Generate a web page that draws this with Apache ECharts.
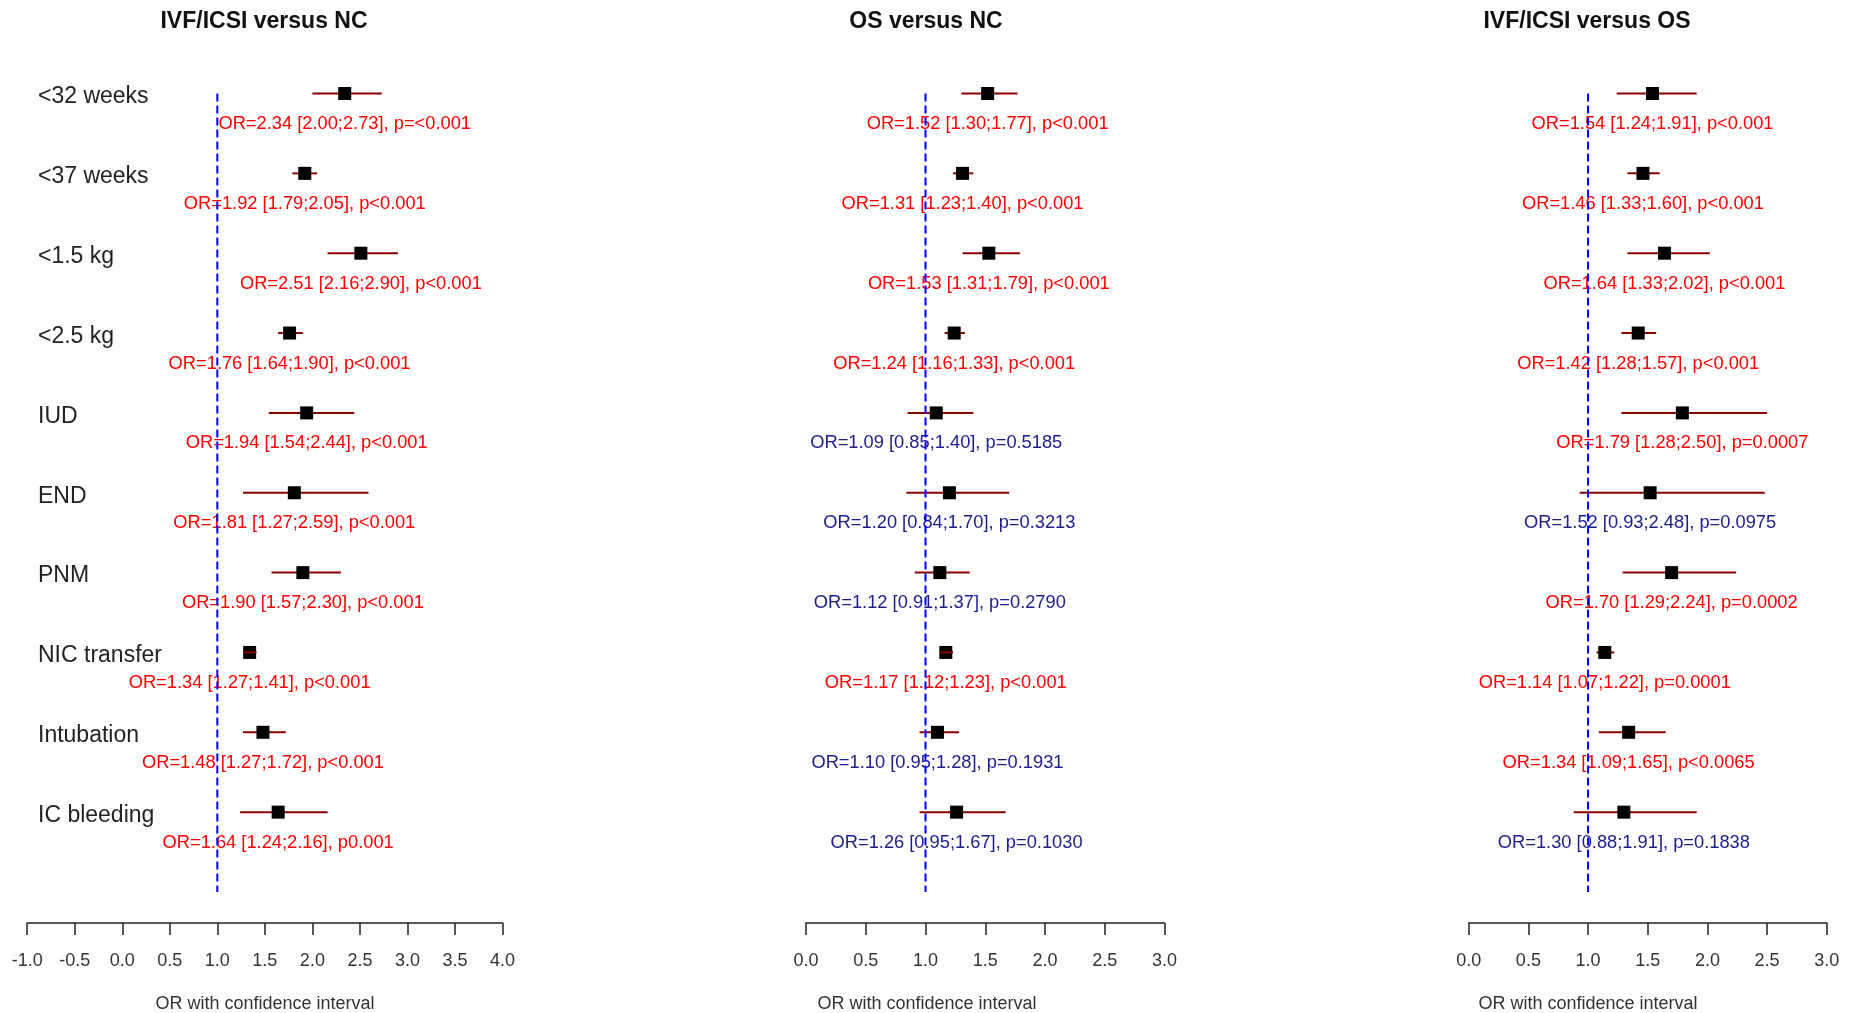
<!DOCTYPE html>
<html>
<head>
<meta charset="utf-8">
<script src="https://cdn.jsdelivr.net/npm/echarts@6/dist/echarts.min.js"></script>
<style>
html,body{margin:0;padding:0;background:#fff;}
#chart{width:1854px;height:1013px;}
</style>
</head>
<body>
<div id="chart"></div>
<script>
// ---------- data ----------
const categories = ['<32 weeks','<37 weeks','<1.5 kg','<2.5 kg','IUD','END','PNM','NIC transfer','Intubation','IC bleeding'];
const panelTitles = ['IVF/ICSI versus NC','OS versus NC','IVF/ICSI versus OS'];
const axisTitle = 'OR with confidence interval';

const or1 = [2.34,1.92,2.51,1.76,1.94,1.81,1.90,1.34,1.48,1.64];
const lo1 = [2.00,1.79,2.16,1.64,1.54,1.27,1.57,1.27,1.27,1.24];
const hi1 = [2.73,2.05,2.90,1.90,2.44,2.59,2.30,1.41,1.72,2.16];
const p1  = ['p=<0.001','p<0.001','p<0.001','p<0.001','p<0.001','p<0.001','p<0.001','p<0.001','p<0.001','p0.001'];

const or2 = [1.52,1.31,1.53,1.24,1.09,1.20,1.12,1.17,1.10,1.26];
const lo2 = [1.30,1.23,1.31,1.16,0.85,0.84,0.91,1.12,0.95,0.95];
const hi2 = [1.77,1.40,1.79,1.33,1.40,1.70,1.37,1.23,1.28,1.67];
const p2  = ['p<0.001','p<0.001','p<0.001','p<0.001','p=0.5185','p=0.3213','p=0.2790','p<0.001','p=0.1931','p=0.1030'];

const or3 = [1.54,1.46,1.64,1.42,1.79,1.52,1.70,1.14,1.34,1.30];
const lo3 = [1.24,1.33,1.33,1.28,1.28,0.93,1.29,1.07,1.09,0.88];
const hi3 = [1.91,1.60,2.02,1.57,2.50,2.48,2.24,1.22,1.65,1.91];
const p3  = ['p<0.001','p<0.001','p<0.001','p<0.001','p=0.0007','p=0.0975','p=0.0002','p=0.0001','p<0.0065','p=0.1838'];

const xMins = [-1, 0, 0];
const xMaxs = [4, 3, 3];
const xInterval = 0.5;
const refValue = 1;

// ---------- layout / style ----------
const FONT = '"Liberation Sans", Arial, sans-serif';
const panels = [
  {or: or1, lo: lo1, hi: hi1, p: p1},
  {or: or2, lo: lo2, hi: hi2, p: p2},
  {or: or3, lo: lo3, hi: hi3, p: p3}
];
const gridLeft = [27.2, 806, 1468.7];
const gridWidth = [475.3, 358.5, 358.1];
const titleX = [264, 926, 1587];
const axisTitleX = [265, 927, 1588];
const rowStep = 79.85;
const firstRowY = 93.5;
const yMin = -1;
const gridTop = firstRowY - rowStep;
const gridBottomY = 923;
const yMax = yMin + (gridBottomY - gridTop) / rowStep;
const SQ = 13;

const chart = echarts.init(document.getElementById('chart'), null, {renderer: 'canvas'});

function makeRender(pi) {
  const P = panels[pi];
  return function (params, api) {
    const i = params.dataIndex;
    const o = P.or[i], l = P.lo[i], h = P.hi[i];
    const pc = api.coord([o, i]);
    const pl = api.coord([l, i]);
    const ph = api.coord([h, i]);
    const sig = l > 1 || h < 1;
    const lineShape = {x1: pl[0], y1: pc[1], x2: ph[0], y2: pc[1]};
    const lineStyle = {stroke: '#8B0000', lineWidth: 2};
    const children = [];
    children.push({type: 'line', shape: lineShape, style: lineStyle, z2: 1});
    children.push({type: 'rect', shape: {x: pc[0] - SQ / 2, y: pc[1] - SQ / 2, width: SQ, height: SQ}, style: {fill: '#000'}, z2: 2});
    if (ph[0] - pl[0] <= SQ + 1) {
      children.push({type: 'line', shape: lineShape, style: lineStyle, z2: 3});
    }
    children.push({
      type: 'text', x: pc[0], y: pc[1] + 30.5, z2: 4,
      style: {
        text: 'OR=' + o.toFixed(2) + ' [' + l.toFixed(2) + ';' + h.toFixed(2) + '], ' + P.p[i],
        fill: sig ? '#FF0000' : '#1c1c8c',
        font: '18.3px ' + FONT, align: 'center', verticalAlign: 'middle'
      }
    });
    if (pi === 0) {
      children.push({
        type: 'text', x: 38, y: pc[1] + 3.5, z2: 4,
        style: {text: categories[i], fill: '#222', font: '23px ' + FONT, align: 'left', verticalAlign: 'middle'}
      });
    }
    return {type: 'group', children: children};
  };
}

const grids = [], xAxes = [], yAxes = [], series = [], graphics = [];
for (let pi = 0; pi < 3; pi++) {
  grids.push({left: gridLeft[pi], width: gridWidth[pi], top: gridTop, height: gridBottomY - gridTop, containLabel: false});
  xAxes.push({
    type: 'value', gridIndex: pi, min: xMins[pi], max: xMaxs[pi], interval: xInterval,
    position: 'bottom',
    axisLine: {show: true, onZero: false, lineStyle: {color: '#222', width: 1.5}},
    axisTick: {show: true, inside: false, length: 12, lineStyle: {color: '#222', width: 1.5}},
    splitLine: {show: false},
    axisLabel: {show: true, fontSize: 18, fontFamily: FONT, color: '#333', margin: 29,
      formatter: function (v) { return v.toFixed(1); }}
  });
  yAxes.push({type: 'value', gridIndex: pi, inverse: true, min: yMin, max: yMax, show: false});
  series.push({
    type: 'custom', xAxisIndex: pi, yAxisIndex: pi, z: 2, silent: true, animation: false,
    renderItem: makeRender(pi),
    data: categories.map(function (c, i) { return [panels[pi].or[i], i]; }),
    encode: {x: 0, y: 1},
    clip: false
  });
  series.push({
    type: 'line', xAxisIndex: pi, yAxisIndex: pi, z: 5, silent: true, animation: false,
    symbol: 'none',
    data: [[refValue, 0], [refValue, categories.length]],
    lineStyle: {color: '#0000FF', width: 2, type: [8, 4]}
  });
  graphics.push({
    type: 'text', x: titleX[pi], y: 22,
    style: {text: panelTitles[pi], font: 'bold 23px ' + FONT, fill: '#111', align: 'center', verticalAlign: 'middle'}
  });
  graphics.push({
    type: 'text', x: axisTitleX[pi], y: 1004,
    style: {text: axisTitle, font: '18px ' + FONT, fill: '#333', align: 'center', verticalAlign: 'middle'}
  });
}

chart.setOption({
  animation: false,
  backgroundColor: '#fff',
  grid: grids,
  xAxis: xAxes,
  yAxis: yAxes,
  series: series,
  graphic: graphics
});
</script>
</body>
</html>
